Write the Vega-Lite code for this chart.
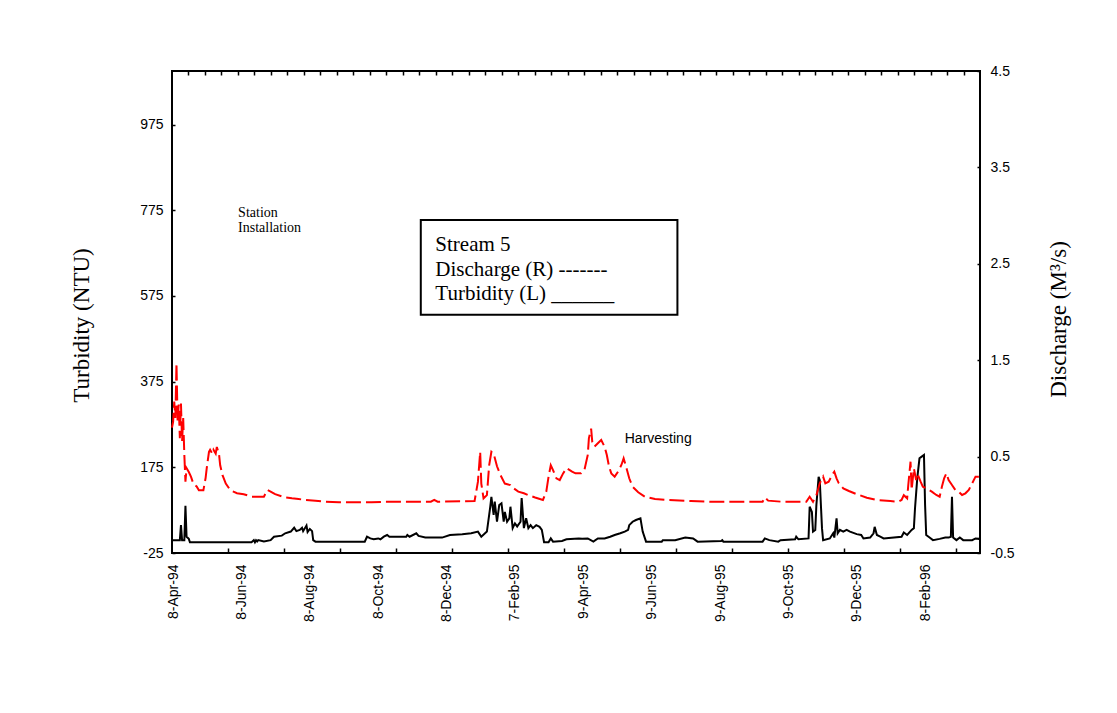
{
  "$schema": "https://vega.github.io/schema/vega-lite/v6.json",
  "width": 808,
  "height": 482,
  "autosize": {"type": "none"},
  "padding": {"left": 172, "top": 71, "right": 137, "bottom": 160},
  "background": "white",
  "config": {
    "view": {"stroke": "black", "strokeWidth": 2},
    "axis": {
      "grid": false,
      "domain": false,
      "labelColor": "black",
      "tickColor": "black",
      "titleColor": "black",
      "labelFont": "Liberation Sans",
      "labelFontSize": 14,
      "titleFont": "Liberation Serif",
      "titleFontWeight": "normal",
      "titleFontSize": 23,
      "labelOverlap": false,
      "labelFlush": false
    }
  },
  "datasets": {
    "turbidity": [
      {"date": "1994-04-07", "t": 5}, {"date": "1994-04-11", "t": 5}, {"date": "1994-04-14", "t": 5}, {"date": "1994-04-15", "t": 40},
      {"date": "1994-04-16", "t": 5}, {"date": "1994-04-18", "t": 5}, {"date": "1994-04-19", "t": 85}, {"date": "1994-04-20", "t": 13},
      {"date": "1994-04-22", "t": 8}, {"date": "1994-04-23", "t": 0}, {"date": "1994-06-17", "t": 0}, {"date": "1994-06-19", "t": 5},
      {"date": "1994-06-20", "t": 0}, {"date": "1994-06-21", "t": 5}, {"date": "1994-06-22", "t": 2}, {"date": "1994-06-23", "t": 5},
      {"date": "1994-06-28", "t": 2}, {"date": "1994-07-04", "t": 5}, {"date": "1994-07-07", "t": 13}, {"date": "1994-07-14", "t": 15.5},
      {"date": "1994-07-17", "t": 21}, {"date": "1994-07-22", "t": 25}, {"date": "1994-07-25", "t": 34}, {"date": "1994-07-27", "t": 26},
      {"date": "1994-07-30", "t": 29}, {"date": "1994-08-01", "t": 34}, {"date": "1994-08-02", "t": 26}, {"date": "1994-08-05", "t": 39},
      {"date": "1994-08-06", "t": 24}, {"date": "1994-08-08", "t": 31}, {"date": "1994-08-10", "t": 26}, {"date": "1994-08-11", "t": 5},
      {"date": "1994-08-13", "t": 1.5}, {"date": "1994-09-26", "t": 1.5}, {"date": "1994-09-28", "t": 13}, {"date": "1994-10-01", "t": 9},
      {"date": "1994-10-04", "t": 7}, {"date": "1994-10-08", "t": 9}, {"date": "1994-10-10", "t": 7}, {"date": "1994-10-13", "t": 13},
      {"date": "1994-10-16", "t": 17}, {"date": "1994-10-18", "t": 13}, {"date": "1994-10-22", "t": 13}, {"date": "1994-11-02", "t": 13},
      {"date": "1994-11-03", "t": 17}, {"date": "1994-11-05", "t": 13}, {"date": "1994-11-11", "t": 21}, {"date": "1994-11-13", "t": 15},
      {"date": "1994-11-19", "t": 11}, {"date": "1994-12-04", "t": 11}, {"date": "1994-12-11", "t": 17}, {"date": "1994-12-22", "t": 19},
      {"date": "1994-12-30", "t": 21}, {"date": "1995-01-05", "t": 25}, {"date": "1995-01-08", "t": 13}, {"date": "1995-01-13", "t": 25},
      {"date": "1995-01-16", "t": 83}, {"date": "1995-01-17", "t": 106}, {"date": "1995-01-19", "t": 64}, {"date": "1995-01-20", "t": 95},
      {"date": "1995-01-22", "t": 48}, {"date": "1995-01-24", "t": 87}, {"date": "1995-01-26", "t": 91}, {"date": "1995-01-28", "t": 48},
      {"date": "1995-01-29", "t": 71}, {"date": "1995-01-31", "t": 48}, {"date": "1995-02-02", "t": 56}, {"date": "1995-02-03", "t": 83},
      {"date": "1995-02-05", "t": 33}, {"date": "1995-02-07", "t": 44}, {"date": "1995-02-09", "t": 37}, {"date": "1995-02-12", "t": 48},
      {"date": "1995-02-13", "t": 103}, {"date": "1995-02-15", "t": 33}, {"date": "1995-02-17", "t": 56}, {"date": "1995-02-19", "t": 33},
      {"date": "1995-02-21", "t": 40}, {"date": "1995-02-23", "t": 33}, {"date": "1995-02-26", "t": 40}, {"date": "1995-03-01", "t": 36},
      {"date": "1995-03-03", "t": 29}, {"date": "1995-03-05", "t": 0}, {"date": "1995-03-09", "t": 0}, {"date": "1995-03-11", "t": 9},
      {"date": "1995-03-13", "t": 1.5}, {"date": "1995-03-21", "t": 3}, {"date": "1995-03-25", "t": 7}, {"date": "1995-04-05", "t": 9},
      {"date": "1995-04-08", "t": 8}, {"date": "1995-04-13", "t": 9}, {"date": "1995-04-18", "t": 1.5}, {"date": "1995-04-22", "t": 9},
      {"date": "1995-04-28", "t": 9}, {"date": "1995-05-03", "t": 13}, {"date": "1995-05-07", "t": 17}, {"date": "1995-05-12", "t": 21},
      {"date": "1995-05-16", "t": 25}, {"date": "1995-05-19", "t": 29}, {"date": "1995-05-20", "t": 40}, {"date": "1995-05-23", "t": 48},
      {"date": "1995-05-26", "t": 52}, {"date": "1995-05-30", "t": 56}, {"date": "1995-06-01", "t": 25}, {"date": "1995-06-04", "t": 1.5},
      {"date": "1995-06-18", "t": 1.5}, {"date": "1995-06-19", "t": 5}, {"date": "1995-06-30", "t": 5}, {"date": "1995-07-09", "t": 11},
      {"date": "1995-07-16", "t": 9}, {"date": "1995-07-20", "t": 1.5}, {"date": "1995-08-10", "t": 3}, {"date": "1995-08-11", "t": 5},
      {"date": "1995-08-12", "t": 1.5}, {"date": "1995-09-16", "t": 1.5}, {"date": "1995-09-18", "t": 9}, {"date": "1995-09-22", "t": 5},
      {"date": "1995-09-30", "t": 1.5}, {"date": "1995-10-02", "t": 5}, {"date": "1995-10-15", "t": 7}, {"date": "1995-10-16", "t": 13},
      {"date": "1995-10-18", "t": 7}, {"date": "1995-10-27", "t": 9}, {"date": "1995-10-28", "t": 83}, {"date": "1995-10-30", "t": 71},
      {"date": "1995-10-31", "t": 25}, {"date": "1995-11-02", "t": 29}, {"date": "1995-11-03", "t": 87}, {"date": "1995-11-05", "t": 153},
      {"date": "1995-11-06", "t": 145}, {"date": "1995-11-08", "t": 33}, {"date": "1995-11-09", "t": 5}, {"date": "1995-11-15", "t": 9},
      {"date": "1995-11-18", "t": 21}, {"date": "1995-11-19", "t": 11}, {"date": "1995-11-21", "t": 56}, {"date": "1995-11-22", "t": 21},
      {"date": "1995-11-24", "t": 29}, {"date": "1995-11-27", "t": 25}, {"date": "1995-11-30", "t": 29}, {"date": "1995-12-03", "t": 25},
      {"date": "1995-12-09", "t": 19}, {"date": "1995-12-13", "t": 17}, {"date": "1995-12-15", "t": 9}, {"date": "1995-12-21", "t": 11},
      {"date": "1995-12-24", "t": 21}, {"date": "1995-12-25", "t": 36}, {"date": "1995-12-27", "t": 17}, {"date": "1995-12-30", "t": 13},
      {"date": "1996-01-02", "t": 9}, {"date": "1996-01-18", "t": 13}, {"date": "1996-01-20", "t": 23}, {"date": "1996-01-23", "t": 17},
      {"date": "1996-01-27", "t": 29}, {"date": "1996-01-29", "t": 33}, {"date": "1996-01-30", "t": 79}, {"date": "1996-02-01", "t": 149},
      {"date": "1996-02-03", "t": 196}, {"date": "1996-02-05", "t": 200}, {"date": "1996-02-07", "t": 204}, {"date": "1996-02-08", "t": 87},
      {"date": "1996-02-09", "t": 17}, {"date": "1996-02-12", "t": 11}, {"date": "1996-02-15", "t": 5}, {"date": "1996-02-21", "t": 8},
      {"date": "1996-02-26", "t": 11}, {"date": "1996-02-29", "t": 11}, {"date": "1996-03-02", "t": 13}, {"date": "1996-03-03", "t": 106},
      {"date": "1996-03-04", "t": 11}, {"date": "1996-03-07", "t": 5}, {"date": "1996-03-10", "t": 11}, {"date": "1996-03-13", "t": 5},
      {"date": "1996-03-21", "t": 5}, {"date": "1996-03-24", "t": 9}, {"date": "1996-03-27", "t": 8}, {"date": "1996-03-28", "t": 9}
    ],
    "discharge": [
      {"date": "1994-04-07", "q": 0.8}, {"date": "1994-04-08", "q": 0.86}, {"date": "1994-04-09", "q": 1.07}, {"date": "1994-04-10", "q": 0.9},
      {"date": "1994-04-11", "q": 1.47}, {"date": "1994-04-12", "q": 0.86}, {"date": "1994-04-13", "q": 1.04}, {"date": "1994-04-14", "q": 0.69},
      {"date": "1994-04-15", "q": 1.05}, {"date": "1994-04-16", "q": 0.66}, {"date": "1994-04-17", "q": 0.9}, {"date": "1994-04-18", "q": 0.52},
      {"date": "1994-04-19", "q": 0.24}, {"date": "1994-04-20", "q": 0.38}, {"date": "1994-04-22", "q": 0.34}, {"date": "1994-04-24", "q": 0.29},
      {"date": "1994-04-26", "q": 0.22}, {"date": "1994-04-29", "q": 0.19}, {"date": "1994-05-01", "q": 0.15}, {"date": "1994-05-05", "q": 0.15},
      {"date": "1994-05-07", "q": 0.28}, {"date": "1994-05-08", "q": 0.38}, {"date": "1994-05-10", "q": 0.55}, {"date": "1994-05-11", "q": 0.57},
      {"date": "1994-05-13", "q": 0.53}, {"date": "1994-05-14", "q": 0.57}, {"date": "1994-05-16", "q": 0.53}, {"date": "1994-05-17", "q": 0.6},
      {"date": "1994-05-19", "q": 0.52}, {"date": "1994-05-20", "q": 0.41}, {"date": "1994-05-22", "q": 0.31}, {"date": "1994-05-25", "q": 0.22},
      {"date": "1994-05-28", "q": 0.17}, {"date": "1994-05-31", "q": 0.14}, {"date": "1994-06-04", "q": 0.12}, {"date": "1994-06-10", "q": 0.11},
      {"date": "1994-06-17", "q": 0.084}, {"date": "1994-06-23", "q": 0.084}, {"date": "1994-06-28", "q": 0.084}, {"date": "1994-07-01", "q": 0.154},
      {"date": "1994-07-04", "q": 0.137}, {"date": "1994-07-08", "q": 0.11}, {"date": "1994-07-17", "q": 0.076}, {"date": "1994-07-23", "q": 0.067},
      {"date": "1994-07-29", "q": 0.06}, {"date": "1994-08-04", "q": 0.05}, {"date": "1994-08-13", "q": 0.043}, {"date": "1994-08-22", "q": 0.032},
      {"date": "1994-09-03", "q": 0.026}, {"date": "1994-10-02", "q": 0.026}, {"date": "1994-10-14", "q": 0.032}, {"date": "1994-11-24", "q": 0.032},
      {"date": "1994-11-27", "q": 0.05}, {"date": "1994-11-30", "q": 0.032}, {"date": "1995-01-02", "q": 0.04}, {"date": "1995-01-05", "q": 0.24},
      {"date": "1995-01-07", "q": 0.55}, {"date": "1995-01-08", "q": 0.22}, {"date": "1995-01-10", "q": 0.067}, {"date": "1995-01-13", "q": 0.1},
      {"date": "1995-01-15", "q": 0.41}, {"date": "1995-01-17", "q": 0.55}, {"date": "1995-01-19", "q": 0.53}, {"date": "1995-01-22", "q": 0.4},
      {"date": "1995-01-25", "q": 0.31}, {"date": "1995-01-29", "q": 0.22}, {"date": "1995-02-03", "q": 0.205}, {"date": "1995-02-06", "q": 0.17},
      {"date": "1995-02-10", "q": 0.137}, {"date": "1995-02-15", "q": 0.12}, {"date": "1995-02-19", "q": 0.1}, {"date": "1995-02-25", "q": 0.076},
      {"date": "1995-03-04", "q": 0.05}, {"date": "1995-03-07", "q": 0.137}, {"date": "1995-03-09", "q": 0.29}, {"date": "1995-03-11", "q": 0.41},
      {"date": "1995-03-13", "q": 0.36}, {"date": "1995-03-16", "q": 0.275}, {"date": "1995-03-19", "q": 0.257}, {"date": "1995-03-22", "q": 0.326},
      {"date": "1995-03-25", "q": 0.38}, {"date": "1995-03-30", "q": 0.344}, {"date": "1995-04-02", "q": 0.326}, {"date": "1995-04-05", "q": 0.326},
      {"date": "1995-04-07", "q": 0.326}, {"date": "1995-04-10", "q": 0.36}, {"date": "1995-04-13", "q": 0.517}, {"date": "1995-04-14", "q": 0.69},
      {"date": "1995-04-16", "q": 0.79}, {"date": "1995-04-17", "q": 0.655}, {"date": "1995-04-19", "q": 0.603}, {"date": "1995-04-22", "q": 0.638},
      {"date": "1995-04-25", "q": 0.672}, {"date": "1995-04-28", "q": 0.603}, {"date": "1995-04-30", "q": 0.517}, {"date": "1995-05-02", "q": 0.396},
      {"date": "1995-05-04", "q": 0.326}, {"date": "1995-05-07", "q": 0.292}, {"date": "1995-05-10", "q": 0.344}, {"date": "1995-05-13", "q": 0.413},
      {"date": "1995-05-15", "q": 0.482}, {"date": "1995-05-18", "q": 0.361}, {"date": "1995-05-20", "q": 0.275}, {"date": "1995-05-23", "q": 0.188},
      {"date": "1995-05-28", "q": 0.13}, {"date": "1995-06-03", "q": 0.084}, {"date": "1995-06-12", "q": 0.06}, {"date": "1995-06-24", "q": 0.05},
      {"date": "1995-07-14", "q": 0.039}, {"date": "1995-08-01", "q": 0.032}, {"date": "1995-09-16", "q": 0.032}, {"date": "1995-09-18", "q": 0.076},
      {"date": "1995-09-21", "q": 0.043}, {"date": "1995-10-03", "q": 0.032}, {"date": "1995-10-25", "q": 0.032}, {"date": "1995-10-28", "q": 0.084},
      {"date": "1995-10-31", "q": 0.032}, {"date": "1995-11-03", "q": 0.1}, {"date": "1995-11-06", "q": 0.223}, {"date": "1995-11-09", "q": 0.292},
      {"date": "1995-11-11", "q": 0.223}, {"date": "1995-11-14", "q": 0.24}, {"date": "1995-11-17", "q": 0.309}, {"date": "1995-11-19", "q": 0.344},
      {"date": "1995-11-21", "q": 0.275}, {"date": "1995-11-23", "q": 0.223}, {"date": "1995-11-27", "q": 0.171}, {"date": "1995-12-02", "q": 0.143},
      {"date": "1995-12-09", "q": 0.11}, {"date": "1995-12-18", "q": 0.074}, {"date": "1995-12-27", "q": 0.05}, {"date": "1996-01-08", "q": 0.039},
      {"date": "1996-01-15", "q": 0.032}, {"date": "1996-01-18", "q": 0.05}, {"date": "1996-01-20", "q": 0.1}, {"date": "1996-01-23", "q": 0.067},
      {"date": "1996-01-24", "q": 0.205}, {"date": "1996-01-26", "q": 0.447}, {"date": "1996-01-27", "q": 0.154}, {"date": "1996-01-29", "q": 0.378},
      {"date": "1996-01-31", "q": 0.257}, {"date": "1996-02-01", "q": 0.326}, {"date": "1996-02-04", "q": 0.24}, {"date": "1996-02-06", "q": 0.188},
      {"date": "1996-02-09", "q": 0.171}, {"date": "1996-02-14", "q": 0.136}, {"date": "1996-02-18", "q": 0.102}, {"date": "1996-02-21", "q": 0.084},
      {"date": "1996-02-23", "q": 0.188}, {"date": "1996-02-25", "q": 0.275}, {"date": "1996-02-27", "q": 0.326}, {"date": "1996-02-29", "q": 0.257},
      {"date": "1996-03-03", "q": 0.205}, {"date": "1996-03-06", "q": 0.154}, {"date": "1996-03-09", "q": 0.136}, {"date": "1996-03-12", "q": 0.102},
      {"date": "1996-03-15", "q": 0.119}, {"date": "1996-03-18", "q": 0.154}, {"date": "1996-03-21", "q": 0.223}, {"date": "1996-03-24", "q": 0.292},
      {"date": "1996-03-27", "q": 0.292}
    ],
    "station": [
      {"date": "1994-06-05", "value": 760, "label": "Station"},
      {"date": "1994-06-05", "value": 725, "label": "Installation"}
    ],
    "legendbox": [
      {"start": "1994-11-15", "end": "1995-07-02", "top": 752, "bottom": 531}
    ],
    "legendtext": [
      {"date": "1994-11-28", "value": 680, "label": "Stream 5"},
      {"date": "1994-11-28", "value": 622, "label": "Discharge (R) -------"},
      {"date": "1994-11-28", "value": 566, "label": "Turbidity (L) ______"}
    ],
    "harvest": [
      {"date": "1995-05-16", "value": 231, "label": "Harvesting"}
    ]
  },
  "resolve": {"scale": {"y": "independent"}, "axis": {"x": "independent"}},
  "layer": [
    {
      "data": {"name": "turbidity"},
      "mark": {"type": "line", "color": "black", "strokeWidth": 2},
      "encoding": {
        "x": {
          "field": "date", "type": "temporal",
          "scale": {"type": "utc", "domain": [765676800000, 827971200000]},
          "axis": {
            "orient": "bottom",
            "values": [765763200000, 771033600000, 776304000000, 781574400000, 786844800000, 792115200000, 797385600000, 802656000000, 807926400000, 813196800000, 818467200000, 823737600000],
            "format": "%-d-%b-%y", "labelAngle": -90, "ticks": false, "labelPadding": 11, "title": null
          }
        },
        "y": {
          "field": "t", "type": "quantitative",
          "scale": {"domain": [-25, 1100], "nice": false, "zero": false},
          "axis": {
            "orient": "left", "values": [-25, 175, 375, 575, 775, 975], "format": "d",
            "labelExpr": "replace(datum.label, '−', '-')",
            "tickSize": -3, "tickWidth": 1.5, "labelPadding": 12,
            "title": "Turbidity (NTU)", "titleX": -91, "titleY": 254, "titleAngle": -90, "titleBaseline": "middle", "titleAlign": "center"
          }
        }
      }
    },
    {
      "data": {"name": "discharge"},
      "mark": {"type": "line", "color": "#ff0000", "strokeWidth": 2, "strokeDash": [15, 5]},
      "encoding": {
        "x": {
          "field": "date", "type": "temporal",
          "scale": {"type": "utc", "domain": [765676800000, 827971200000]},
          "axis": {
            "orient": "bottom",
            "values": [769996800000, 774316800000, 778636800000, 782956800000, 787276800000, 791596800000, 795916800000, 800236800000, 804556800000, 808876800000, 813196800000, 817516800000, 821836800000, 826156800000],
            "labels": false, "tickSize": -5, "tickWidth": 1.5, "title": null
          }
        },
        "y": {
          "field": "q", "type": "quantitative",
          "scale": {"domain": [-0.5, 4.5], "nice": false, "zero": false},
          "axis": {
            "orient": "right", "values": [-0.5, 0.5, 1.5, 2.5, 3.5, 4.5], "format": ".1f",
            "labelExpr": "replace(datum.label, '−', '-')",
            "tickSize": -3, "tickWidth": 1.5, "labelPadding": 13,
            "title": "Discharge (M³/s)", "titleX": 78, "titleY": 248, "titleAngle": -90, "titleBaseline": "middle", "titleAlign": "center"
          }
        }
      }
    },
    {
      "data": {"name": "station"},
      "mark": {"type": "text", "font": "Liberation Serif", "fontSize": 14, "align": "left", "baseline": "alphabetic", "color": "black"},
      "encoding": {
        "x": {
          "field": "date", "type": "temporal",
          "scale": {"type": "utc", "domain": [765676800000, 827971200000]},
          "axis": {
            "orient": "top",
            "values": [766948114286, 768219428571, 769490742857, 770762057143, 772033371429, 773304685714, 774576000000, 775847314286, 777118628571, 778389942857, 779661257143, 780932571429, 782203885714, 783475200000, 784746514286, 786017828571, 787289142857, 788560457143, 789831771429, 791103085714, 792374400000, 793645714286, 794917028571, 796188342857, 797459657143, 798730971429, 800002285714, 801273600000, 802544914286, 803816228571, 805087542857, 806358857143, 807630171429, 808901485714, 810172800000, 811444114286, 812715428571, 813986742857, 815258057143, 816529371429, 817800685714, 819072000000, 820343314286, 821614628571, 822885942857, 824157257143, 825428571429, 826699885714],
            "labels": false, "tickSize": -4, "tickWidth": 1.5, "title": null
          }
        },
        "y": {"field": "value", "type": "quantitative", "scale": {"domain": [-25, 1100], "nice": false, "zero": false}, "axis": null},
        "text": {"field": "label"}
      }
    },
    {
      "data": {"name": "legendbox"},
      "mark": {"type": "rect", "fill": "white", "stroke": "black", "strokeWidth": 2},
      "encoding": {
        "x": {"field": "start", "type": "temporal", "scale": {"type": "utc", "domain": [765676800000, 827971200000]}, "axis": null},
        "x2": {"field": "end"},
        "y": {"field": "top", "type": "quantitative", "scale": {"domain": [-25, 1100], "nice": false, "zero": false}, "axis": null},
        "y2": {"field": "bottom"}
      }
    },
    {
      "data": {"name": "legendtext"},
      "mark": {"type": "text", "font": "Liberation Serif", "fontSize": 21, "align": "left", "baseline": "alphabetic", "color": "black"},
      "encoding": {
        "x": {"field": "date", "type": "temporal", "scale": {"type": "utc", "domain": [765676800000, 827971200000]}, "axis": null},
        "y": {"field": "value", "type": "quantitative", "scale": {"domain": [-25, 1100], "nice": false, "zero": false}, "axis": null},
        "text": {"field": "label"}
      }
    },
    {
      "data": {"name": "harvest"},
      "mark": {"type": "text", "font": "Liberation Sans", "fontSize": 14, "align": "left", "baseline": "alphabetic", "color": "black"},
      "encoding": {
        "x": {"field": "date", "type": "temporal", "scale": {"type": "utc", "domain": [765676800000, 827971200000]}, "axis": null},
        "y": {"field": "value", "type": "quantitative", "scale": {"domain": [-25, 1100], "nice": false, "zero": false}, "axis": null},
        "text": {"field": "label"}
      }
    }
  ]
}
